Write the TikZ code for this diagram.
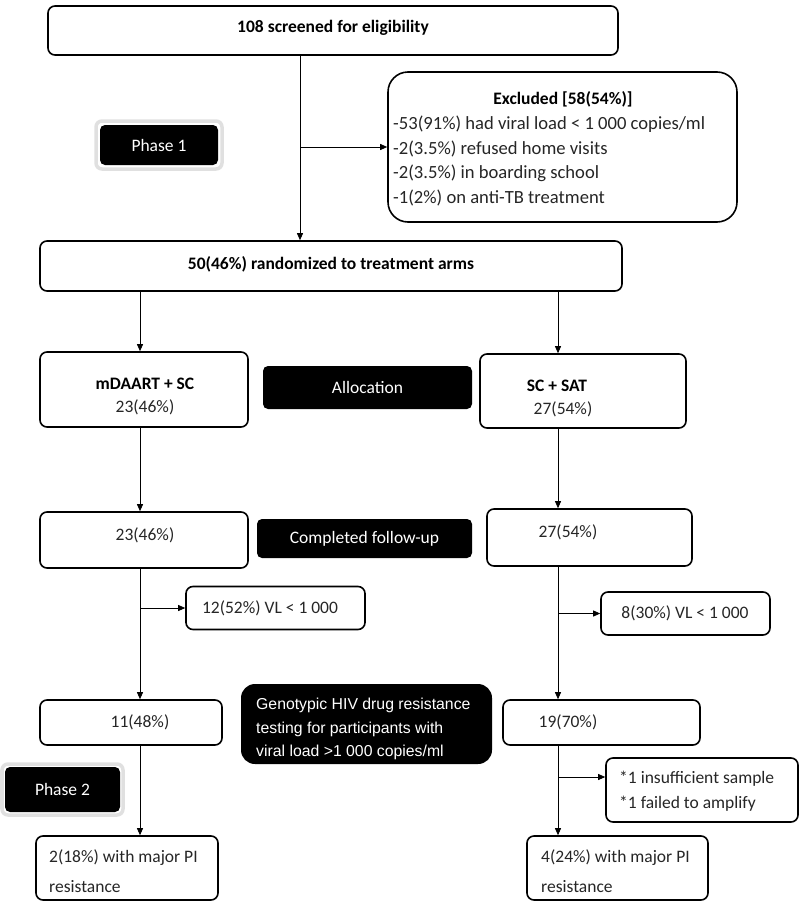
\documentclass[tikz,border=0pt]{standalone}
\usepackage{fontspec}
\setmainfont{Carlito}
\newfontfamily\arialf{Liberation Sans}
\usetikzlibrary{arrows.meta}
\begin{document}
\begin{tikzpicture}[x=1pt,y=-1pt,
  box/.style={draw, line width=1.6pt, rounded corners=7pt, inner sep=0pt, fill=white},
  blk/.style={fill=black, rounded corners=5pt, text=white, inner sep=0pt, font=\fontsize{17.5}{20}\selectfont},
  glow/.style={draw=black!12, line width=3.5pt, rounded corners=6pt},
  conn/.style={line width=0.8pt, -{Triangle[length=7pt,width=6pt]}},
  txt/.style={inner sep=0pt, font=\fontsize{17.5}{20}\selectfont, text=black!85},
  btxt/.style={inner sep=0pt, font=\fontsize{17.5}{20}\selectfont\bfseries}]
\useasboundingbox (0,0) rectangle (800,905);

% boxes
\node[box, minimum width=570pt, minimum height=49pt] (top) at (333,30.5) {};
\node[btxt] (ttop) at (333,28) {108 screened for eligibility};

\node[box, rounded corners=20pt, minimum width=349pt, minimum height=150pt] (excl) at (562.5,147) {};
\node[btxt] (texcl) at (563,99) {Excluded [58(54\%)]};
\node[txt, anchor=north west, align=left, font=\fontsize{18.6}{24.5}\selectfont] (lexcl) at (393,116)
  {-53(91\%) had viral load < 1 000 copies/ml\\-2(3.5\%) refused home visits\\-2(3.5\%) in boarding school\\-1(2\%) on anti-TB treatment};

\draw[glow] (96,121) rectangle (222,169);
\node[blk, minimum width=118pt, minimum height=40pt] (ph1) at (159,145) {Phase 1};

\node[box, minimum width=582pt, minimum height=50pt] (rand) at (331,266) {};
\node[btxt] (trand) at (331,264) {50(46\%) randomized to treatment arms};

\node[box, minimum width=208pt, minimum height=75pt] (mda) at (144,389.5) {};
\node[btxt] (tmda) at (145,384) {mDAART + SC};
\node[txt] (nmda) at (145,407) {23(46\%)};

\node[blk, minimum width=209pt, minimum height=43pt] (alloc) at (367.5,387.5) {Allocation};

\node[box, minimum width=206pt, minimum height=74pt] (scs) at (583,391) {};
\node[btxt] (tscs) at (557,386) {SC + SAT};
\node[txt] (nscs) at (563,409) {27(54\%)};

\node[box, minimum width=208pt, minimum height=56pt] (f1) at (144,540) {};
\node[txt] (tf1) at (145,535) {23(46\%)};

\node[blk, minimum width=215pt, minimum height=39pt] (comp) at (364.5,538.5) {Completed follow-up};

\node[box, minimum width=205pt, minimum height=57pt] (f2) at (589.5,537.5) {};
\node[txt] (tf2) at (568,532) {27(54\%)};

\node[box, minimum width=179pt, minimum height=43pt] (vl1) at (275.5,608) {};
\node[txt] (tvl1) at (270,608) {12(52\%) VL < 1 000};

\node[box, minimum width=169pt, minimum height=43pt] (vl2) at (685.5,613.5) {};
\node[txt] (tvl2) at (685,613) {8(30\%) VL < 1 000};

\node[box, minimum width=182pt, minimum height=45pt] (g1) at (131,722.5) {};
\node[txt] (tg1) at (140,722) {11(48\%)};

\node[blk, rounded corners=14pt, minimum width=251pt, minimum height=80pt] (geno) at (366.5,724) {};
\node[inner sep=0pt, anchor=west, text=white, align=left, font=\arialf\fontsize{15.8}{23.5}\selectfont] (tgeno) at (256,729)
  {Genotypic HIV drug resistance\\testing for participants with\\viral load >1 000 copies/ml};

\node[box, minimum width=197pt, minimum height=45pt] (g2) at (601.5,722.5) {};
\node[txt] (tg2) at (568,722) {19(70\%)};

\draw[glow] (2,764) rectangle (123,815);
\node[blk, minimum width=115pt, minimum height=45pt] (ph2) at (62.5,789.5) {Phase 2};

\node[box, minimum width=192pt, minimum height=64pt] (ins) at (702,790) {};
\node[txt, anchor=west, align=left, font=\fontsize{17.5}{25}\selectfont] (tins) at (619,791)
  {*1 insufficient sample\\*1 failed to amplify};

\node[box, minimum width=182pt, minimum height=64pt] (r1) at (127,868) {};
\node[txt, anchor=west, align=left, font=\fontsize{17.5}{30}\selectfont] (tr1) at (49,871)
  {2(18\%) with major PI\\resistance};

\node[box, minimum width=181pt, minimum height=64pt] (r2) at (617.5,868) {};
\node[txt, anchor=west, align=left, font=\fontsize{17.5}{30}\selectfont] (tr2) at (541,871)
  {4(24\%) with major PI\\resistance};

% connector columns
\coordinate (sx) at (300,0);
\coordinate (lx) at (140,0);
\coordinate (rx) at (558,0);

\draw[conn] (top.south -| sx) -- (rand.north -| sx);
\draw[conn] (excl.west -| sx) -- (excl.west);
\draw[conn] (rand.south -| lx) -- (mda.north -| lx);
\draw[conn] (rand.south -| rx) -- (scs.north -| rx);
\draw[conn] (mda.south -| lx) -- (f1.north -| lx);
\draw[conn] (scs.south -| rx) -- (f2.north -| rx);
\draw[conn] (f1.south -| lx) -- (g1.north -| lx);
\draw[conn] (vl1.west -| lx) -- (vl1.west);
\draw[conn] (f2.south -| rx) -- (g2.north -| rx);
\draw[conn] (vl2.west -| rx) -- (vl2.west);
\draw[conn] (g1.south -| lx) -- (r1.north -| lx);
\draw[conn] (g2.south -| rx) -- (r2.north -| rx);
\coordinate (insj) at ([yshift=13pt]ins.west);
\draw[conn] (insj -| rx) -- (insj);
\end{tikzpicture}
\end{document}
